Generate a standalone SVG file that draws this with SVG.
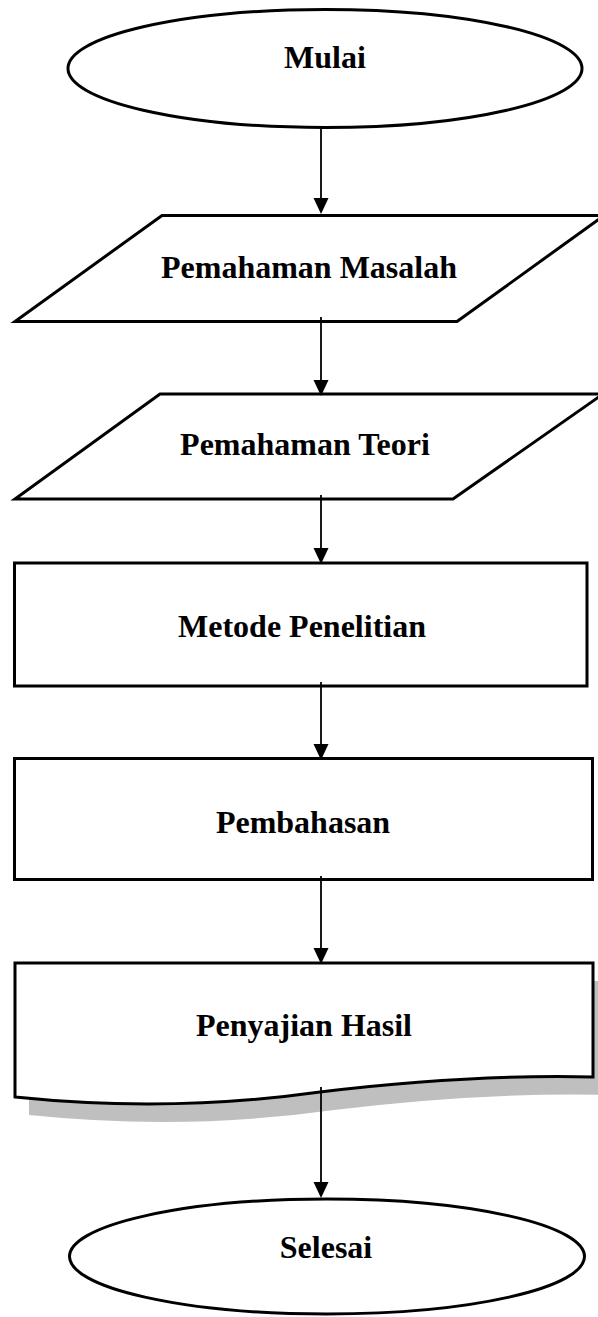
<svg xmlns="http://www.w3.org/2000/svg" width="598" height="1317" viewBox="0 0 598 1317">
<style>
.shape{fill:#ffffff;stroke:#000000;stroke-width:3;}
.lbl{font-family:"Liberation Serif","Times New Roman",serif;font-weight:bold;font-size:32px;fill:#000000;text-anchor:middle;}
.conn{stroke:#000000;stroke-width:1.8;fill:none;}
.head{fill:#000000;stroke:none;}
</style>
<rect width="598" height="1317" fill="#ffffff"/>
<g id="mulai">
<ellipse class="shape" cx="325" cy="68.5" rx="257" ry="59"/>
<text class="lbl" x="325" y="68">Mulai</text>
</g>
<g id="pemahaman-masalah">
<polygon class="shape" points="162,215.5 604,215.5 457,321.5 15,321.5"/>
<text class="lbl" x="309" y="278">Pemahaman Masalah</text>
</g>
<g id="pemahaman-teori">
<polygon class="shape" points="160,394 603,394 453,499 15,499"/>
<text class="lbl" x="305" y="455">Pemahaman Teori</text>
</g>
<g id="metode-penelitian">
<rect class="shape" x="14.5" y="563" width="572.5" height="123"/>
<text class="lbl" x="302" y="637">Metode Penelitian</text>
</g>
<g id="pembahasan">
<rect class="shape" x="14.5" y="758.5" width="578" height="121"/>
<text class="lbl" x="303" y="833">Pembahasan</text>
</g>
<g id="penyajian-hasil">
<path fill="#bfbfbf" stroke="none" transform="translate(14,18)" d="M15,963 L593,963 L593,1077 Q470,1074 320,1092 Q170,1113 15,1097 Z"/>
<path class="shape" d="M15,963 L593,963 L593,1077 Q470,1074 320,1092 Q170,1113 15,1097 Z"/>
<text class="lbl" x="304" y="1036">Penyajian Hasil</text>
</g>
<g id="selesai">
<ellipse class="shape" cx="327" cy="1256.5" rx="257.5" ry="57.5"/>
<text class="lbl" x="326" y="1258">Selesai</text>
</g>
<g id="connectors">
<line class="conn" x1="321" y1="129" x2="321" y2="200"/>
<polygon class="head" points="313.5,198 328.5,198 321,214"/>
<line class="conn" x1="321" y1="317" x2="321" y2="382"/>
<polygon class="head" points="313.5,380 328.5,380 321,396"/>
<line class="conn" x1="321" y1="495" x2="321" y2="550"/>
<polygon class="head" points="313.5,548 328.5,548 321,564"/>
<line class="conn" x1="321" y1="682" x2="321" y2="746"/>
<polygon class="head" points="313.5,744 328.5,744 321,760"/>
<line class="conn" x1="321" y1="876" x2="321" y2="950"/>
<polygon class="head" points="313.5,948 328.5,948 321,964"/>
<line class="conn" x1="321" y1="1087" x2="321" y2="1184"/>
<polygon class="head" points="313.5,1182 328.5,1182 321,1198"/>
</g>
</svg>
